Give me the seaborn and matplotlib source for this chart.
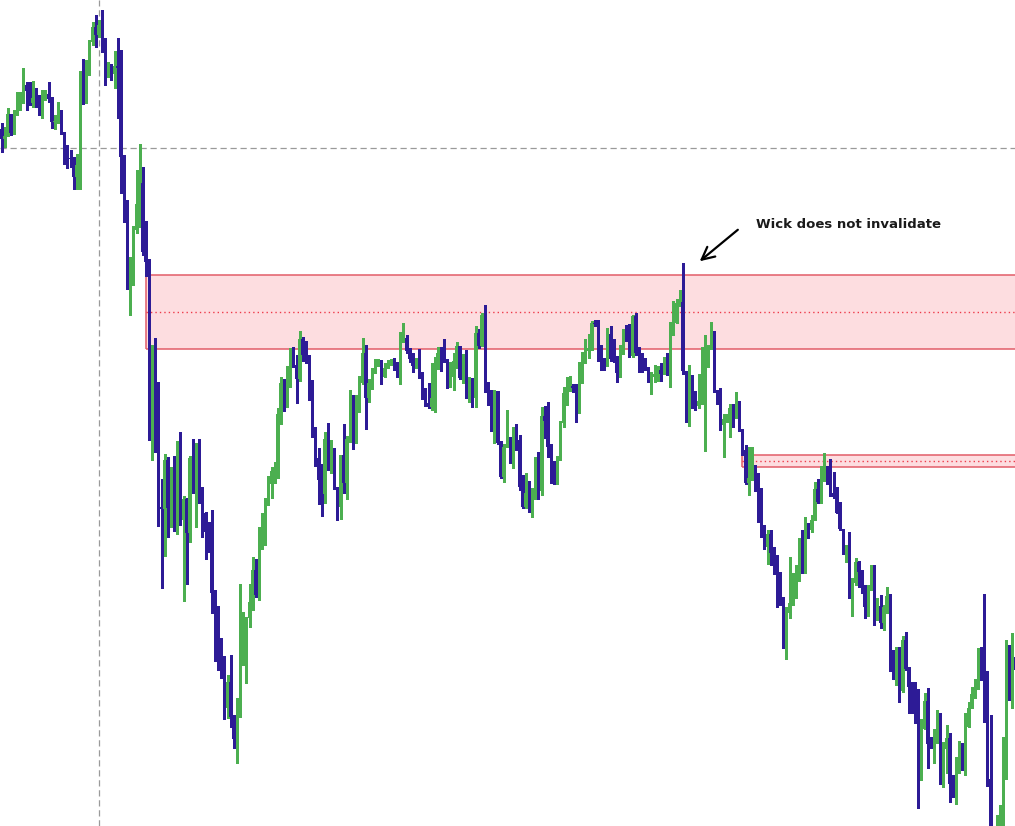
import numpy as np
import seaborn as sns
import matplotlib.pyplot as plt
from matplotlib.patches import Rectangle

# chart levels (measured from the top of the chart window, so the axis is inverted)
open0 = 129
close = [139, 136, 114, 133, 112, 105, 100, 85, 91, 103,
         98, 101, 109, 97, 94, 99, 122, 121, 119, 132,
         147, 158, 159, 177, 165, 80, 91, 70, 42, 27,
         35, 25, 46, 77, 64, 74, 66, 68, 157, 218,
         278, 261, 230, 204, 183, 252, 262, 418,
         354, 398, 507, 509, 460, 508, 471, 523, 443, 520,
         499, 533, 458, 467, 450, 491, 513, 532, 533, 593,
         617, 665, 666, 708, 682, 717, 739, 703, 662, 640,
         618, 602, 570, 595, 533, 525, 504, 484, 471, 467,
         414, 383, 402, 383,
         353, 365, 379, 339, 355, 355, 399, 432, 458, 480,
         494, 439, 463, 456, 488, 507, 455, 483, 439, 405,
         440, 408, 383, 353, 398, 383, 370, 361, 360, 377,
         368, 363, 361, 369, 376, 342, 338, 351, 359, 366,
         364, 376, 397, 403, 407, 398, 364, 353,
         359, 360, 379, 377, 361, 346, 378, 357, 393, 392,
         398, 333, 346, 315, 390, 394, 423, 391, 443, 477,
         447, 442, 446, 431, 440, 487, 507, 493, 504, 498,
         465, 491, 416, 421, 447, 478, 483, 458, 423, 393,
         388, 386, 388, 409, 382, 359,
         351, 348, 323, 324, 359, 365, 366, 334, 359, 360,
         373, 350, 331, 339, 356, 316, 353, 356, 364, 367,
         378, 377, 374, 370, 374, 360, 374, 324, 323, 303,
         302, 371, 411, 381, 396, 406, 401, 374, 361, 345,
         338, 391, 403, 425, 419, 417, 408, 416, 405, 430,
         450, 483, 478, 467, 482, 492, 528, 547, 534, 553,
         558, 592, 600, 647, 613, 603, 586, 580, 548, 572,
         526, 530, 520, 489, 502, 478, 475, 481, 493, 497,
         513, 529, 553, 549, 596, 583, 562, 572, 588, 607,
         587, 571, 617, 606, 623, 607, 596, 655, 668, 649,
         691, 640, 669, 687, 696, 711, 779, 729, 701, 744,
         745, 730, 716, 778, 749, 738, 784, 792, 772, 746,
         769, 727, 708, 694, 687, 654, 679, 717, 779, 845,
         850, 835, 820, 762, 660, 675, 657, 670]

high = [123, 127, 108, 115, 110, 92, 92, 68, 82, 82,
        81, 88, 95, 90, 90, 82, 97, 115, 102, 110,
        133, 145, 150, 157, 154, 71, 59, 60, 40, 22,
        15, 20, 10, 38, 62, 64, 51, 38, 50, 155,
        200, 257, 226, 170, 144, 167, 221, 259,
        345, 338, 382, 479, 454, 457, 467, 456, 441, 432,
        496, 498, 456, 439, 443, 439, 487, 512, 522, 510,
        590, 606, 638, 656, 675, 655, 715, 698, 584, 612,
        617, 584, 557, 559, 527, 513, 498, 476, 467, 462,
        408, 377, 379, 366,
        348, 347, 355, 331, 337, 341, 355, 380, 427, 448,
        464, 432, 423, 440, 448, 487, 455, 424, 436, 390,
        395, 395, 376, 338, 345, 379, 368, 359, 359, 360,
        363, 360, 359, 358, 362, 332, 323, 335, 348, 353,
        358, 349, 372, 388, 383, 363, 357, 347,
        347, 339, 359, 362, 353, 342, 347, 354, 350, 377,
        378, 326, 329, 313, 305, 382, 390, 390, 391, 441,
        444, 410, 437, 427, 424, 435, 475, 473, 481, 488,
        457, 452, 407, 406, 402, 444, 461, 456, 421, 387,
        377, 376, 384, 384, 362, 352,
        339, 334, 321, 320, 320, 345, 358, 328, 326, 339,
        356, 345, 329, 325, 324, 315, 313, 347, 353, 358,
        367, 372, 365, 366, 363, 357, 353, 322, 301, 299,
        290, 263, 372, 365, 375, 391, 374, 347, 335, 345,
        322, 331, 390, 388, 414, 414, 404, 404, 392, 401,
        429, 445, 447, 447, 465, 473, 488, 525, 530, 530,
        547, 555, 572, 597, 607, 557, 573, 565, 538, 530,
        517, 523, 515, 482, 479, 466, 453, 466, 459, 472,
        487, 502, 529, 545, 532, 578, 558, 561, 570, 585,
        585, 565, 565, 598, 595, 605, 587, 594, 650, 647,
        647, 636, 632, 667, 682, 682, 689, 719, 693, 688,
        737, 729, 710, 713, 742, 725, 733, 775, 757, 741,
        743, 713, 702, 687, 679, 648, 647, 594, 671, 715,
        830, 815, 805, 737, 640, 645, 633, 655]

low = [152, 147, 134, 135, 134, 115, 110, 103, 110, 105,
       107, 107, 115, 118, 100, 102, 128, 129, 123, 134,
       164, 168, 167, 189, 189, 189, 104, 103, 75, 45,
       47, 37, 52, 85, 75, 80, 88, 118, 193, 222,
       289, 315, 285, 233, 227, 255, 276, 440,
       460, 452, 526, 588, 556, 537, 527, 531, 534, 525,
       601, 584, 542, 493, 527, 503, 537, 559, 552, 613,
       661, 670, 678, 719, 718, 727, 748, 763, 717, 665,
       683, 627, 610, 597, 600, 549, 545, 505, 498, 483,
       478, 424, 411, 407,
       387, 367, 403, 381, 361, 363, 400, 437, 466, 504,
       516, 503, 470, 473, 489, 520, 519, 493, 499, 442,
       449, 443, 412, 384, 429, 402, 389, 373, 366, 384,
       376, 367, 365, 370, 377, 384, 341, 353, 362, 372,
       368, 378, 399, 406, 408, 410, 412, 369,
       371, 362, 388, 387, 390, 368, 379, 383, 398, 402,
       407, 407, 348, 346, 392, 405, 431, 443, 444, 478,
       482, 447, 463, 468, 450, 490, 508, 508, 512, 517,
       499, 499, 495, 438, 457, 483, 484, 484, 460, 427,
       405, 391, 392, 422, 413, 383,
       363, 358, 350, 326, 361, 370, 370, 366, 361, 362,
       382, 377, 354, 341, 357, 357, 355, 372, 372, 370,
       382, 394, 382, 381, 381, 374, 375, 387, 335, 323,
       306, 374, 422, 426, 408, 410, 408, 404, 451, 367,
       349, 392, 404, 430, 457, 422, 437, 427, 418, 431,
       455, 484, 495, 480, 491, 522, 537, 549, 564, 565,
       574, 607, 605, 648, 659, 618, 605, 598, 581, 573,
       573, 538, 532, 519, 503, 503, 481, 484, 496, 498,
       513, 530, 554, 562, 598, 616, 585, 587, 593, 618,
       616, 590, 625, 620, 628, 630, 613, 671, 679, 685,
       702, 692, 670, 713, 713, 723, 808, 780, 729, 768,
       748, 763, 743, 784, 787, 773, 802, 797, 804, 773,
       770, 775, 727, 707, 698, 689, 680, 722, 786, 860,
       870, 855, 840, 830, 779, 700, 708, 711]

# supply zones: (first bar, top, bottom)
big_zone = (46, 275.3, 349.3)
small_zone = (236, 455.3, 467.3)
crosshair_bar = 31
crosshair_level = 148
spike_bar = 217
note = "Wick does not invalidate"

bull_col = "#4caf50"
bear_col = "#2d1b96"
zone_fill = "#fddde0"
zone_edge = "#e25c68"
zone_mid = "#ee3b4b"

df_open = np.array([open0] + close[:-1], dtype=float)
df_close = np.array(close, dtype=float)
df_high = np.minimum(np.array(high, dtype=float), np.minimum(df_open, df_close))
df_low = np.maximum(np.array(low, dtype=float), np.maximum(df_open, df_close))
idx = np.arange(len(close))
bull = df_close < df_open  # level counted from top, so smaller = higher

sns.set_style("white")
fig = plt.figure(figsize=(10.15, 8.26), dpi=100)
ax = fig.add_axes([0, 0, 1, 1])
ax.set_xlim(-0.48, 322.8)
ax.set_ylim(826, 0)
ax.axis("off")

# zones
for start, top, bot in [big_zone, small_zone]:
    ax.add_patch(Rectangle((start, top), 400, bot - top, facecolor=zone_fill,
                           edgecolor="none", zorder=0))
    ax.vlines(start, top, bot, color=zone_edge, lw=1.1, zorder=1)
    ax.hlines([top, bot], start, 400, color=zone_edge, lw=1.1, zorder=1)
    ax.hlines((top + bot) / 2, start, 400, color=zone_mid, lw=1.0,
              linestyle=(0, (1, 2.2)), zorder=1)

# crosshair
ax.axvline(crosshair_bar, color="#9a9a9a", lw=0.9, linestyle=(0, (5, 3)), zorder=1)
ax.axhline(crosshair_level, color="#9a9a9a", lw=0.9, linestyle=(0, (5, 3)), zorder=1)

# candles
colors = np.where(bull, bull_col, bear_col)
ax.vlines(idx, df_high, df_low, colors=colors, lw=1.0, zorder=2, antialiased=False)
body_bot = np.minimum(df_open, df_close)
body_h = np.maximum(np.abs(df_close - df_open), 1.2)
ax.bar(idx, body_h, bottom=body_bot, width=0.92, color=colors, zorder=3,
       linewidth=0, antialiased=False)

# annotation
ax.annotate("", xy=(spike_bar + 4.7, df_high[spike_bar]), xytext=(spike_bar + 18.2, 228),
            arrowprops=dict(arrowstyle="->,head_length=0.9,head_width=0.45",
                            color="black", lw=1.6), zorder=5)
ax.text(spike_bar + 23.3, 224.5, note, fontsize=9.5, fontweight="bold",
        color="#1a1a1a", va="center", ha="left", zorder=5)

fig.savefig("out.png", dpi=100)
